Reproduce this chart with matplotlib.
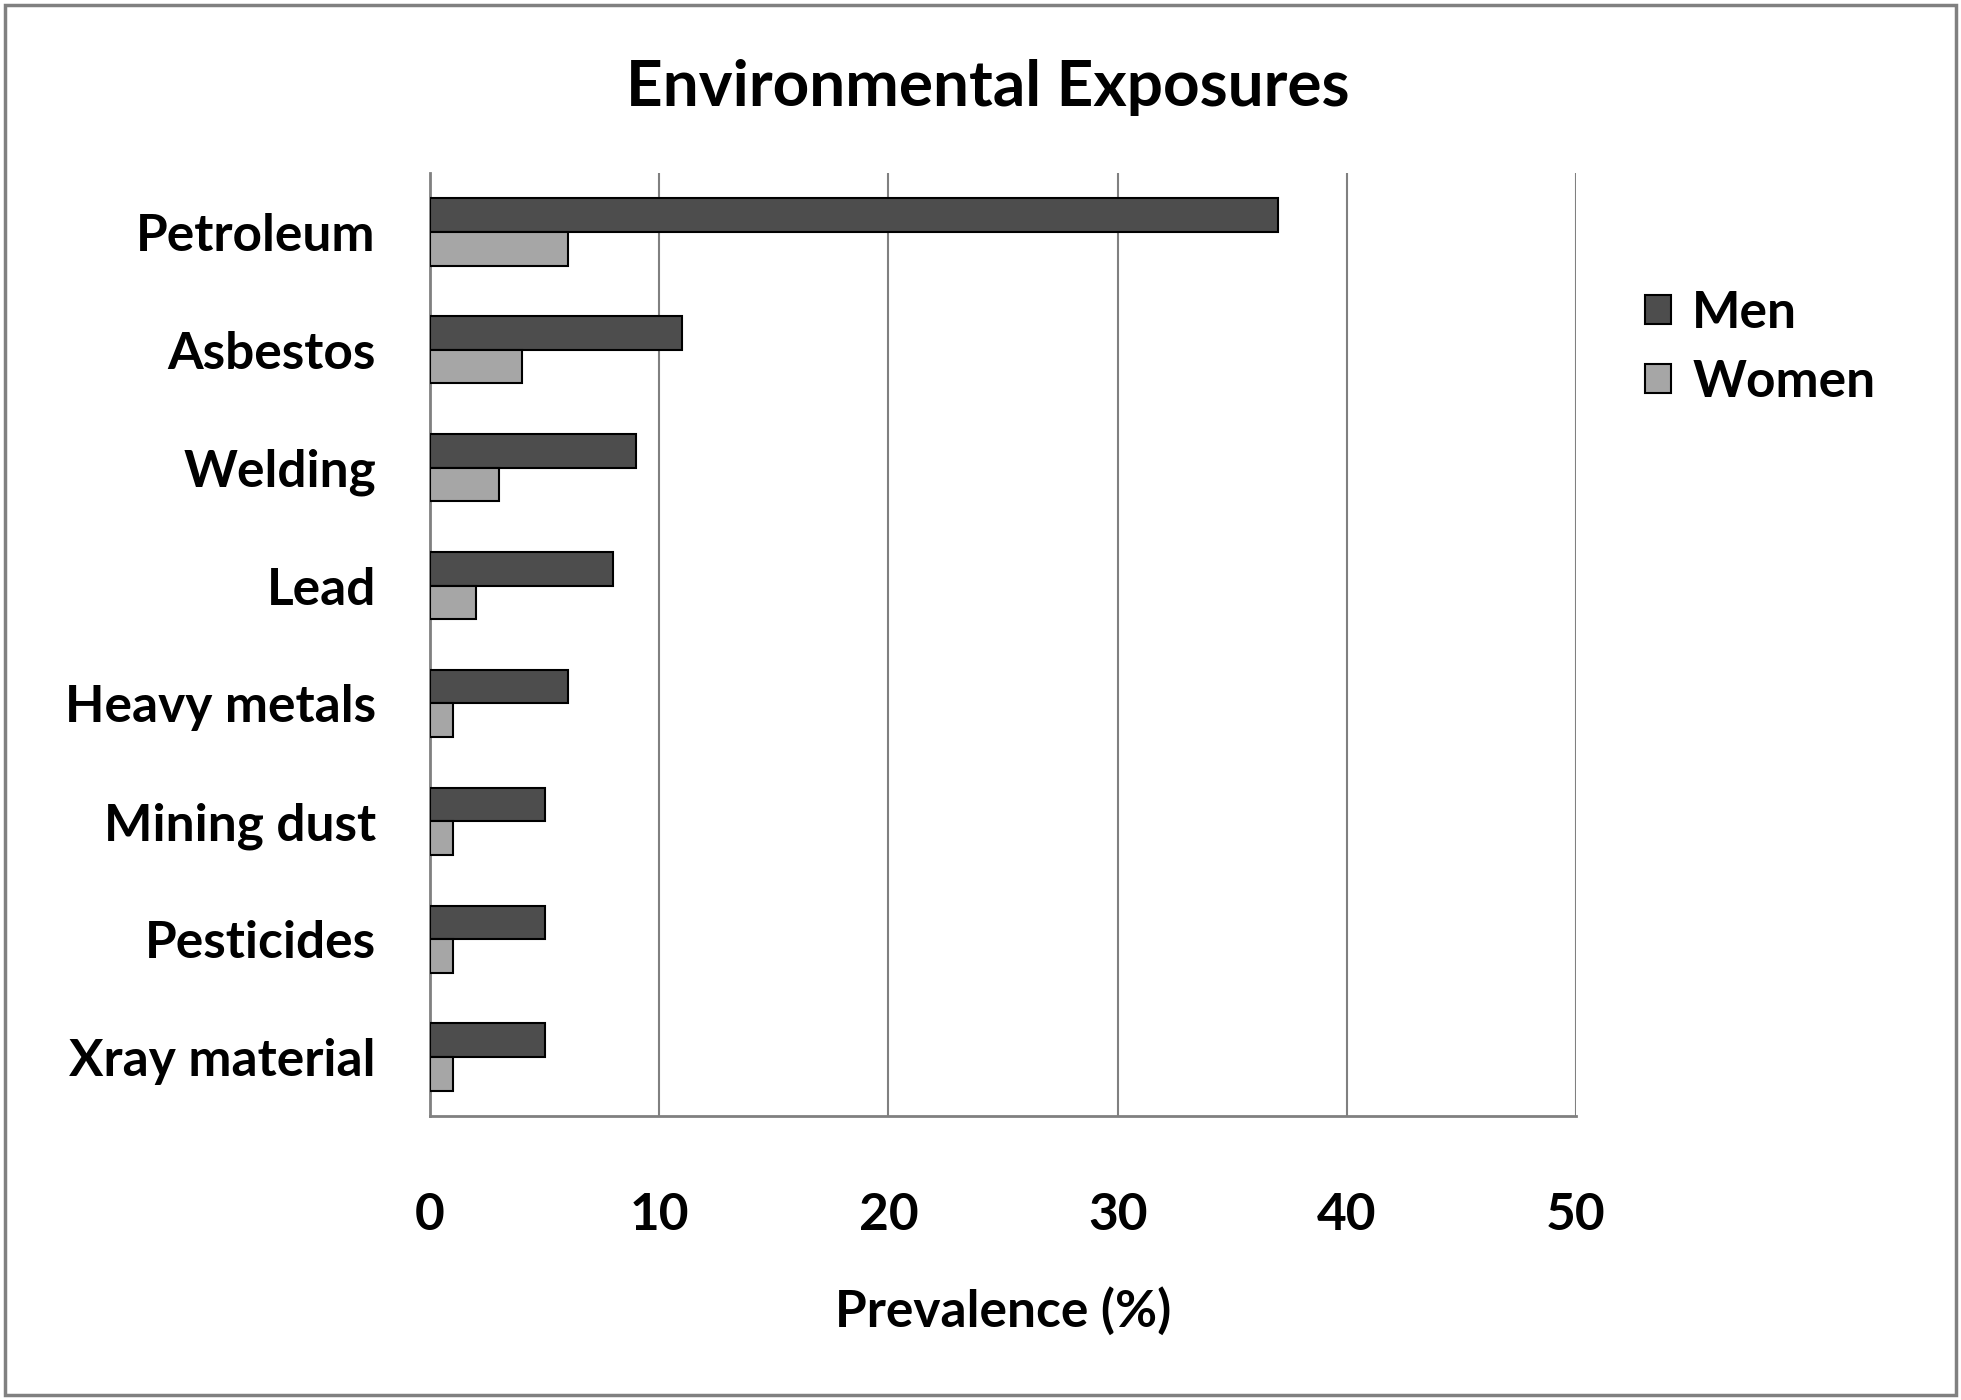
import matplotlib.pyplot as plt
import numpy as np
from matplotlib.patches import Rectangle

# Data
categories = ['Petroleum', 'Asbestos', 'Welding', 'Lead', 'Heavy metals',
              'Mining dust', 'Pesticides', 'Xray material']
men = [37, 11, 9, 8, 6, 5, 5, 5]
women = [6, 4, 3, 2, 1, 1, 1, 1]
xticks = [0, 10, 20, 30, 40, 50]

plt.rcParams['font.family'] = ['Lato', 'DejaVu Sans']
plt.rcParams['font.weight'] = 'bold'

W, H = 1961, 1400
fig = plt.figure(figsize=(W / 100, H / 100), dpi=100)
ax = fig.add_axes([430 / W, 1 - 1116 / H, (1576 - 430) / W, (1116 - 173) / H])

# Figure frame
fig.patches.append(Rectangle((5 / W, 5 / H), 1 - 10 / W, 1 - 10 / H,
                             transform=fig.transFigure, fill=False,
                             edgecolor='#808080', linewidth=2.5))

y = np.arange(len(categories))
h = 0.285
ax.barh(y - h / 2, men, height=h, color='#4d4d4d', edgecolor='black',
        linewidth=1.5, label='Men', zorder=3)
ax.barh(y + h / 2, women, height=h, color='#a6a6a6', edgecolor='black',
        linewidth=1.5, label='Women', zorder=3)

fs = 37
ax.set_ylim(len(categories) - 0.5, -0.5)
ax.set_xlim(0, 50)
ax.set_yticks(y)
ax.set_yticklabels(categories, fontsize=fs, fontweight='bold')
ax.set_xticks(xticks)
ax.set_xticklabels([str(t) for t in xticks], fontsize=fs, fontweight='bold')
ax.tick_params(axis='both', length=0)
ax.tick_params(axis='x', pad=55)
ax.tick_params(axis='y', pad=39)

ax.grid(axis='x', color='#808080', linewidth=1.5, zorder=0)
for s in ['top', 'right']:
    ax.spines[s].set_visible(False)
for s in ['left', 'bottom']:
    ax.spines[s].set_color('#808080')
    ax.spines[s].set_linewidth(2)

ax.set_xlabel('Prevalence (%)', fontsize=fs, fontweight='bold', labelpad=34)

fig.text(988 / W, 1 - 88 / H, 'Environmental Exposures', fontsize=46,
         fontweight='bold', ha='center', va='center')

fig.legend(*ax.get_legend_handles_labels(), loc='upper left',
           bbox_to_anchor=(1645 / W, 1 - 290 / H), frameon=False,
           fontsize=fs, handlelength=0.5, handleheight=0.5,
           handletextpad=0.42, labelspacing=0.42, borderaxespad=0,
           borderpad=0)

fig.savefig('out.png', dpi=100, facecolor='white')
